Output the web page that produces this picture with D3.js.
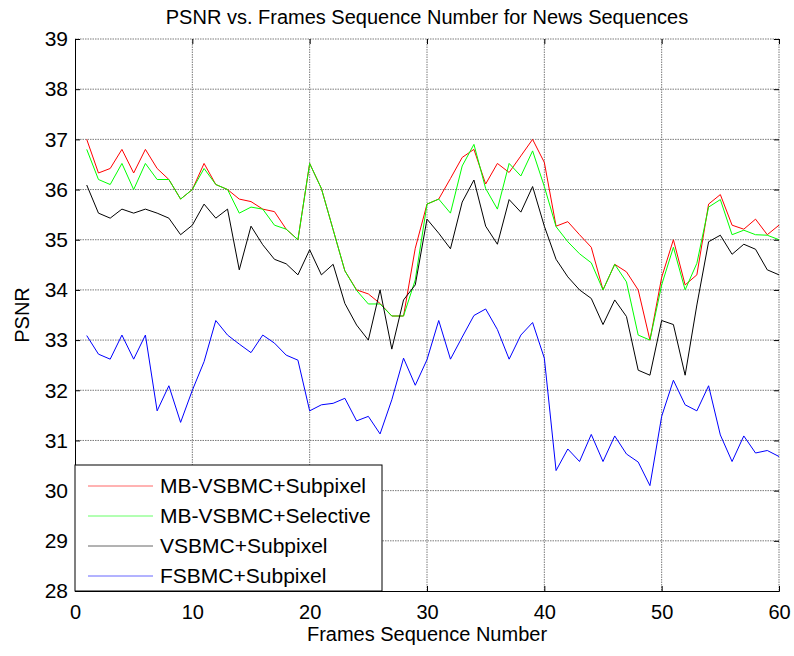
<!DOCTYPE html>
<html>
<head>
<meta charset="utf-8">
<script src="https://cdn.jsdelivr.net/npm/d3@7"></script>
<style>
  body { margin: 0; background: #fff; }
  svg { font-family: "Liberation Sans", Arial, sans-serif; }
</style>
</head>
<body>
<svg id="chart" width="794" height="656"></svg>
<script>
// frame numbers 1..60
const frames = d3.range(1, 61);

const mbSubpixel = [37.0, 36.33, 36.42, 36.8, 36.33, 36.8, 36.42, 36.2, 35.81, 36.0,
  36.52, 36.1, 36.0, 35.81, 35.76, 35.61, 35.56, 35.21, 35.0, 36.52,
  36.02, 35.2, 34.38, 34.0, 33.92, 33.73, 33.48, 33.48, 34.83, 35.71,
  35.81, 36.22, 36.64, 36.8, 36.11, 36.52, 36.34, 36.67, 37.0, 36.54,
  35.27, 35.36, 35.1, 34.85, 34.0, 34.51, 34.36, 34.0, 33.0, 34.25,
  35.0, 34.1, 34.3, 35.71, 35.9, 35.29, 35.21, 35.41, 35.1, 35.29];

const mbSelective = [36.8, 36.2, 36.1, 36.52, 36.0, 36.52, 36.2, 36.2, 35.81, 36.0,
  36.42, 36.1, 36.0, 35.53, 35.65, 35.61, 35.29, 35.21, 35.0, 36.52,
  36.02, 35.2, 34.38, 33.99, 33.72, 33.72, 33.48, 33.48, 34.2, 35.71,
  35.81, 35.53, 36.47, 36.9, 36.02, 35.61, 36.52, 36.27, 36.77, 36.06,
  35.26, 34.96, 34.72, 34.54, 34.0, 34.51, 34.16, 33.1, 33.0, 34.1,
  34.85, 34.0, 34.53, 35.65, 35.8, 35.1, 35.19, 35.1, 35.09, 35.0];

const vsbmcSubpixel = [36.09, 35.53, 35.43, 35.61, 35.53, 35.61, 35.53, 35.43, 35.1, 35.29,
  35.71, 35.43, 35.61, 34.4, 35.27, 34.9, 34.61, 34.52, 34.3, 34.8,
  34.3, 34.51, 33.73, 33.3, 33.0, 34.0, 32.82, 33.8, 34.1, 35.41,
  35.13, 34.82, 35.75, 36.19, 35.27, 34.91, 35.8, 35.55, 36.06, 35.27,
  34.61, 34.26, 34.0, 33.83, 33.31, 33.8, 33.47, 32.4, 32.3, 33.39,
  33.31, 32.3, 33.7, 34.96, 35.09, 34.71, 34.91, 34.81, 34.4, 34.3];

const fsbmcSubpixel = [33.09, 32.72, 32.62, 33.1, 32.62, 33.1, 31.59, 32.09, 31.36, 32.0,
  32.57, 33.39, 33.1, 32.92, 32.75, 33.1, 32.94, 32.7, 32.6, 31.59,
  31.71, 31.74, 31.84, 31.39, 31.48, 31.13, 31.81, 32.64, 32.1, 32.61,
  33.39, 32.62, 33.06, 33.49, 33.62, 33.21, 32.62, 33.1, 33.35, 32.64,
  30.4, 30.83, 30.58, 31.12, 30.58, 31.09, 30.73, 30.57, 30.1, 31.48,
  32.2, 31.71, 31.59, 32.09, 31.11, 30.58, 31.09, 30.75, 30.8, 30.68];

const seriesNames = ["MB-VSBMC+Subpixel", "MB-VSBMC+Selective", "VSBMC+Subpixel", "FSBMC+Subpixel"];
const seriesColors = ["#ff0000", "#00ff00", "#000000", "#0000ff"];
const xTicks = [0, 10, 20, 30, 40, 50, 60];
const yTicks = d3.range(28, 40);

const series = [mbSubpixel, mbSelective, vsbmcSubpixel, fsbmcSubpixel];

const svg = d3.select("#chart");
const plotL = 75, plotR = 779, plotT = 39, plotB = 591;

const x = d3.scaleLinear().domain([0, 60]).range([plotL, plotR]);
const y = d3.scaleLinear().domain([28, 39]).range([plotB, plotT]);

// grid (dotted grey), top and right edges look the same in the original
const gridStyle = sel => sel.attr("stroke", "#7a7a7a").attr("stroke-dasharray", "1.5,1");
const grid = svg.append("g");
grid.selectAll(".gx").data(xTicks.slice(1)).enter().append("line")
  .attr("x1", d => x(d)).attr("x2", d => x(d))
  .attr("y1", plotT).attr("y2", plotB)
  .call(gridStyle);
grid.selectAll(".gy").data(yTicks.slice(1)).enter().append("line")
  .attr("y1", d => y(d)).attr("y2", d => y(d))
  .attr("x1", plotL).attr("x2", plotR)
  .call(gridStyle);

// lines
const line = d3.line().x((d, i) => x(frames[i])).y(d => y(d));
series.forEach((s, k) => {
  svg.append("path")
    .datum(s)
    .attr("d", line)
    .attr("fill", "none")
    .attr("stroke", seriesColors[k])
    .attr("stroke-width", 1);
});

// axes (ticks inward, on all four sides)
const axisFont = (g, size) => g.selectAll("text")
  .attr("font-size", size).attr("fill", "#000")
  .attr("font-family", "Liberation Sans, Arial, sans-serif");

svg.append("g").attr("transform", `translate(0,${plotB})`)
  .call(d3.axisBottom(x).tickValues(xTicks).tickSize(-5).tickPadding(14))
  .call(axisFont, 20)
  .call(g => g.select(".domain").attr("stroke", "#000"));
svg.append("g").attr("transform", `translate(0,${plotT})`)
  .call(d3.axisTop(x).tickValues(xTicks).tickSize(-5).tickFormat(""))
  .call(g => g.select(".domain").remove());
svg.append("g").attr("transform", `translate(${plotL},0)`)
  .call(d3.axisLeft(y).tickValues(yTicks).tickSize(-5).tickPadding(7))
  .call(axisFont, 21)
  .call(g => g.select(".domain").attr("stroke", "#000"));
svg.append("g").attr("transform", `translate(${plotR},0)`)
  .call(d3.axisRight(y).tickValues(yTicks).tickSize(-5).tickFormat(""))
  .call(g => g.select(".domain").remove());

// title and labels
svg.append("text").attr("x", (plotL + plotR) / 2).attr("y", 24)
  .attr("text-anchor", "middle").attr("font-size", 20)
  .text("PSNR vs. Frames Sequence Number for News Sequences");
svg.append("text").attr("x", (plotL + plotR) / 2).attr("y", 641)
  .attr("text-anchor", "middle").attr("font-size", 20)
  .text("Frames Sequence Number");
svg.append("text").attr("transform", `translate(29,${(plotT + plotB) / 2}) rotate(-90)`)
  .attr("text-anchor", "middle").attr("font-size", 20)
  .text("PSNR");

// legend
const legend = svg.append("g");
legend.append("rect")
  .attr("x", plotL).attr("y", 465).attr("width", 307).attr("height", plotB - 465)
  .attr("fill", "#fff").attr("stroke", "#000");
const rowY = d3.scalePoint().domain(seriesNames).range([486, 576]);
seriesNames.forEach((n, k) => {
  legend.append("line")
    .attr("x1", 88).attr("x2", 153)
    .attr("y1", rowY(n)).attr("y2", rowY(n))
    .attr("stroke", seriesColors[k]).attr("stroke-opacity", 0.6);
  legend.append("text")
    .attr("x", 160).attr("y", rowY(n)).attr("dy", "0.35em")
    .attr("font-size", 21)
    .text(n);
});
</script>
</body>
</html>
